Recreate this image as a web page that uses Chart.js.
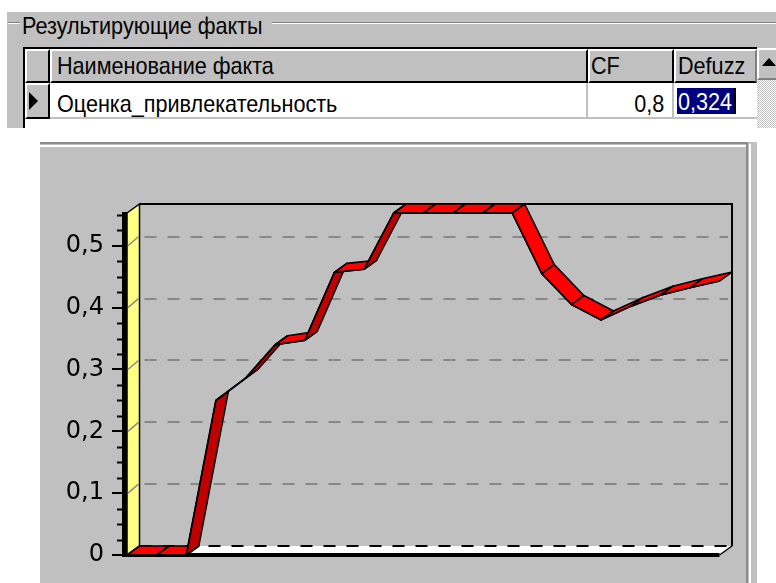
<!DOCTYPE html>
<html><head><meta charset="utf-8">
<script src="https://cdn.jsdelivr.net/npm/chart.js@4.4.1/dist/chart.umd.min.js"></script>
<style>
html,body{margin:0;padding:0;background:#fff;width:776px;height:583px;overflow:hidden;position:relative;font-family:"Liberation Sans",Arial,sans-serif;}
.a{position:absolute;box-sizing:border-box;}
.t{position:absolute;white-space:nowrap;font-size:24px;line-height:26px;color:#000;transform:scaleX(0.9);transform-origin:0 50%;}
.r{transform-origin:100% 50%;}
#c{position:absolute;left:0;top:0;}
</style></head><body>
<!-- group box -->
<div class="a" style="left:7px;top:12px;width:769px;height:116px;background:#c0c0c0"></div>
<div class="a" style="left:8px;top:22px;width:768px;height:1px;background:#808080"></div>
<div class="a" style="left:8px;top:23px;width:768px;height:1px;background:#fff"></div>
<div class="a" style="left:20px;top:14px;width:252px;height:24px;background:#c0c0c0"></div>
<div class="t" id="gtitle" style="left:22px;top:13px"></div>
<!-- grid -->
<div class="a" style="left:23px;top:47px;width:734px;height:81px;background:#fff;border-left:2px solid #000;border-top:2px solid #000"></div>
<div class="a" style="left:25px;top:49px;width:732px;height:34px;background:#c0c0c0;border-bottom:2px solid #000"></div>
<div class="a" style="left:25px;top:49px;width:25px;height:34px;border-top:2px solid #fff;border-left:2px solid #fff;border-right:2px solid #000;border-bottom:2px solid #000"></div>
<div class="a" style="left:50px;top:49px;width:538px;height:34px;border-top:2px solid #fff;border-left:2px solid #fff;border-right:2px solid #000;border-bottom:2px solid #000"></div>
<div class="a" style="left:588px;top:49px;width:86px;height:34px;border-top:2px solid #fff;border-left:2px solid #fff;border-right:2px solid #000;border-bottom:2px solid #000"></div>
<div class="a" style="left:674px;top:49px;width:83px;height:34px;border-top:2px solid #fff;border-left:2px solid #fff;border-right:2px solid #808080;border-bottom:2px solid #000"></div>
<div class="a" style="left:25px;top:83px;width:25px;height:36px;background:#c0c0c0;border-top:2px solid #fff;border-left:2px solid #fff;border-right:2px solid #000;border-bottom:2px solid #000"></div>
<div class="a" style="left:586px;top:83px;width:2px;height:36px;background:#c0c0c0"></div>
<div class="a" style="left:672px;top:83px;width:2px;height:36px;background:#c0c0c0"></div>
<div class="a" style="left:50px;top:117px;width:707px;height:2px;background:#c0c0c0"></div>
<div class="a" style="left:29px;top:92px;width:0;height:0;border-left:9px solid #000;border-top:9px solid transparent;border-bottom:9px solid transparent"></div>
<div class="t" id="h0" style="left:57px;top:53px"></div>
<div class="t" id="h1" style="left:591px;top:53px"></div>
<div class="t" id="h2" style="left:678px;top:53px"></div>
<div class="t" id="d0" style="left:57px;top:91px"></div>
<div class="t r" id="d1" style="right:112px;top:91px"></div>
<div class="a" style="left:677px;top:88px;width:58px;height:26px;background:#000080"></div>
<div class="t" id="d2" style="left:678px;top:89px;color:#fff"></div>
<div class="a" style="left:733px;top:88px;width:3px;height:26px;background:#000"></div>
<!-- scrollbar -->
<div class="a" style="left:757px;top:80px;width:19px;height:48px;background:repeating-conic-gradient(#c0c0c0 0 25%,#fff 0 50%) 0 0/2px 2px"></div>
<div class="a" style="left:757px;top:48px;width:19px;height:32px;background:#c0c0c0;border-top:2px solid #fff;border-left:2px solid #fff;border-bottom:2px solid #808080"></div>
<div class="a" style="left:762px;top:58px;width:0;height:0;border-bottom:8px solid #000;border-left:7px solid transparent;border-right:7px solid transparent"></div>
<!-- chart panel -->
<div class="a" style="left:40px;top:142px;width:717px;height:441px;background:#c0c0c0"></div>
<div class="a" style="left:40px;top:142px;width:708px;height:2px;background:#8c8c8c"></div>
<div class="a" style="left:40px;top:145px;width:706px;height:2px;background:#fff"></div>
<div class="a" style="left:746px;top:142px;width:2px;height:441px;background:#8c8c8c"></div>
<div class="a" style="left:749px;top:144px;width:2px;height:439px;background:#fff"></div>
<canvas id="c" width="776" height="583"></canvas>
<script>
// ---- data ----
const groupTitle = 'Результирующие факты';
const columnHeaders = ['Наименование факта', 'CF', 'Defuzz'];
const factRow = ['Оценка_привлекательность', '0,8', '0,324'];
const categories = ['1','2','3','4','5','6','7','8','9','10','11','12','13','14','15','16','17','18','19','20','21'];
const values = [0, 0, 0, 0.25, 0.286, 0.34, 0.347, 0.457, 0.462, 0.553, 0.553, 0.553, 0.553, 0.553, 0.455, 0.405, 0.38, 0.402, 0.42, 0.432, 0.443];
const yTickLabels = ['0', '0,1', '0,2', '0,3', '0,4', '0,5'];
const yMin = 0;
const yMax = 0.553;

// ---- table text ----
document.getElementById('gtitle').textContent = groupTitle;
columnHeaders.forEach((h, i) => document.getElementById('h' + i).textContent = h);
factRow.forEach((d, i) => document.getElementById('d' + i).textContent = d);

// ---- 3D look plugin ----
const DX = 12.5, DY = -9;
const tee3d = {
  id: 'tee3d',
  beforeDatasetsDraw(chart) {
    const ctx = chart.ctx, a = chart.chartArea, ys = chart.scales.y;
    const L = a.left, R = a.right, T = a.top, B = a.bottom;
    const line = (x1, y1, x2, y2) => { ctx.beginPath(); ctx.moveTo(x1, y1); ctx.lineTo(x2, y2); ctx.stroke(); };
    ctx.save();
    // back wall grid
    ctx.setLineDash([12, 11]); ctx.strokeStyle = '#878787'; ctx.lineWidth = 2;
    ys.ticks.forEach(t => { if (t.value === 0) return; const py = Math.round(ys.getPixelForValue(t.value) + DY); line(L + DX + 5, py, R + DX - 4, py); });
    ctx.setLineDash([]);
    // back wall border
    ctx.strokeStyle = '#000'; ctx.lineWidth = 2;
    ctx.beginPath(); ctx.moveTo(L + DX, T + DY); ctx.lineTo(R + DX, T + DY); ctx.lineTo(R + DX, B + DY); ctx.stroke();
    // floor
    ctx.fillStyle = '#fff';
    ctx.beginPath(); ctx.moveTo(L, B); ctx.lineTo(R, B); ctx.lineTo(R + DX, B + DY); ctx.lineTo(L + DX, B + DY); ctx.closePath(); ctx.fill();
    ctx.setLineDash([12, 11]); ctx.strokeStyle = '#000'; ctx.lineWidth = 2;
    line(L + DX, B + DY, R + DX, B + DY);
    ctx.setLineDash([]);
    ctx.lineWidth = 1.5; line(R, B, R + DX, B + DY);
    ctx.fillStyle = '#000'; ctx.fillRect(L - 5, B - 2, R - L + 5, 4);
    // left wall
    ctx.fillStyle = '#ffff80'; ctx.strokeStyle = '#000'; ctx.lineWidth = 1.5;
    ctx.beginPath(); ctx.moveTo(L, T); ctx.lineTo(L + DX, T + DY); ctx.lineTo(L + DX, B + DY); ctx.lineTo(L, B); ctx.closePath(); ctx.fill(); ctx.stroke();
    ctx.strokeStyle = '#8a8a8a'; ctx.lineWidth = 1.5;
    ys.ticks.forEach(t => { if (t.value === 0) return; const py = ys.getPixelForValue(t.value); line(L + 1, py, L + DX - 1, py + DY); });
    // front-left edge
    ctx.fillStyle = '#000'; ctx.fillRect(L - 5, T - 1, 5, B - T + 3);
    // minor ticks
    ctx.strokeStyle = '#000'; ctx.lineWidth = 2;
    for (let k = 1; k * 0.025 <= yMax + 1e-9; k++) {
      if (k % 4 === 0) continue;
      const py = Math.round(ys.getPixelForValue(k * 0.025)) + 0.5;
      line(L - 10, py, L - 5, py);
    }
    // ribbon
    const pts = chart.getDatasetMeta(0).data;
    ctx.lineWidth = 1.6; ctx.strokeStyle = '#000'; ctx.lineJoin = 'round';
    for (let i = 0; i < pts.length - 1; i++) {
      const p0 = pts[i], p1 = pts[i + 1];
      const sx = p1.x - p0.x, sy = p1.y - p0.y;
      const cross = sx * DY - sy * DX;
      ctx.fillStyle = cross > 0 ? '#c00000' : '#ff0000';
      ctx.beginPath();
      ctx.moveTo(p0.x, p0.y); ctx.lineTo(p1.x, p1.y);
      ctx.lineTo(p1.x + DX, p1.y + DY); ctx.lineTo(p0.x + DX, p0.y + DY);
      ctx.closePath(); ctx.fill(); ctx.stroke();
    }
    ctx.restore();
  }
};

new Chart(document.getElementById('c'), {
  type: 'line',
  data: { labels: categories, datasets: [{ data: values, borderColor: '#000', borderWidth: 1.4, pointRadius: 0, tension: 0, clip: false, fill: false }] },
  options: {
    responsive: false, animation: false, devicePixelRatio: 1,
    layout: { padding: { top: 213, right: 56.5, bottom: 28, left: 0 } },
    plugins: { legend: { display: false }, tooltip: { enabled: false } },
    scales: {
      x: { display: false, offset: false },
      y: {
        min: yMin, max: yMax,
        afterFit(s) { s.width = 127; },
        border: { display: false },
        grid: { drawOnChartArea: false, drawTicks: true, tickLength: 15, color: '#000', lineWidth: 2 },
        ticks: { stepSize: 0.1, includeBounds: false, padding: 8, color: '#000', font: { family: 'DejaVu Sans', size: 24 }, callback: (v, i) => yTickLabels[i] }
      }
    }
  },
  plugins: [tee3d]
});
</script>
</body></html>
